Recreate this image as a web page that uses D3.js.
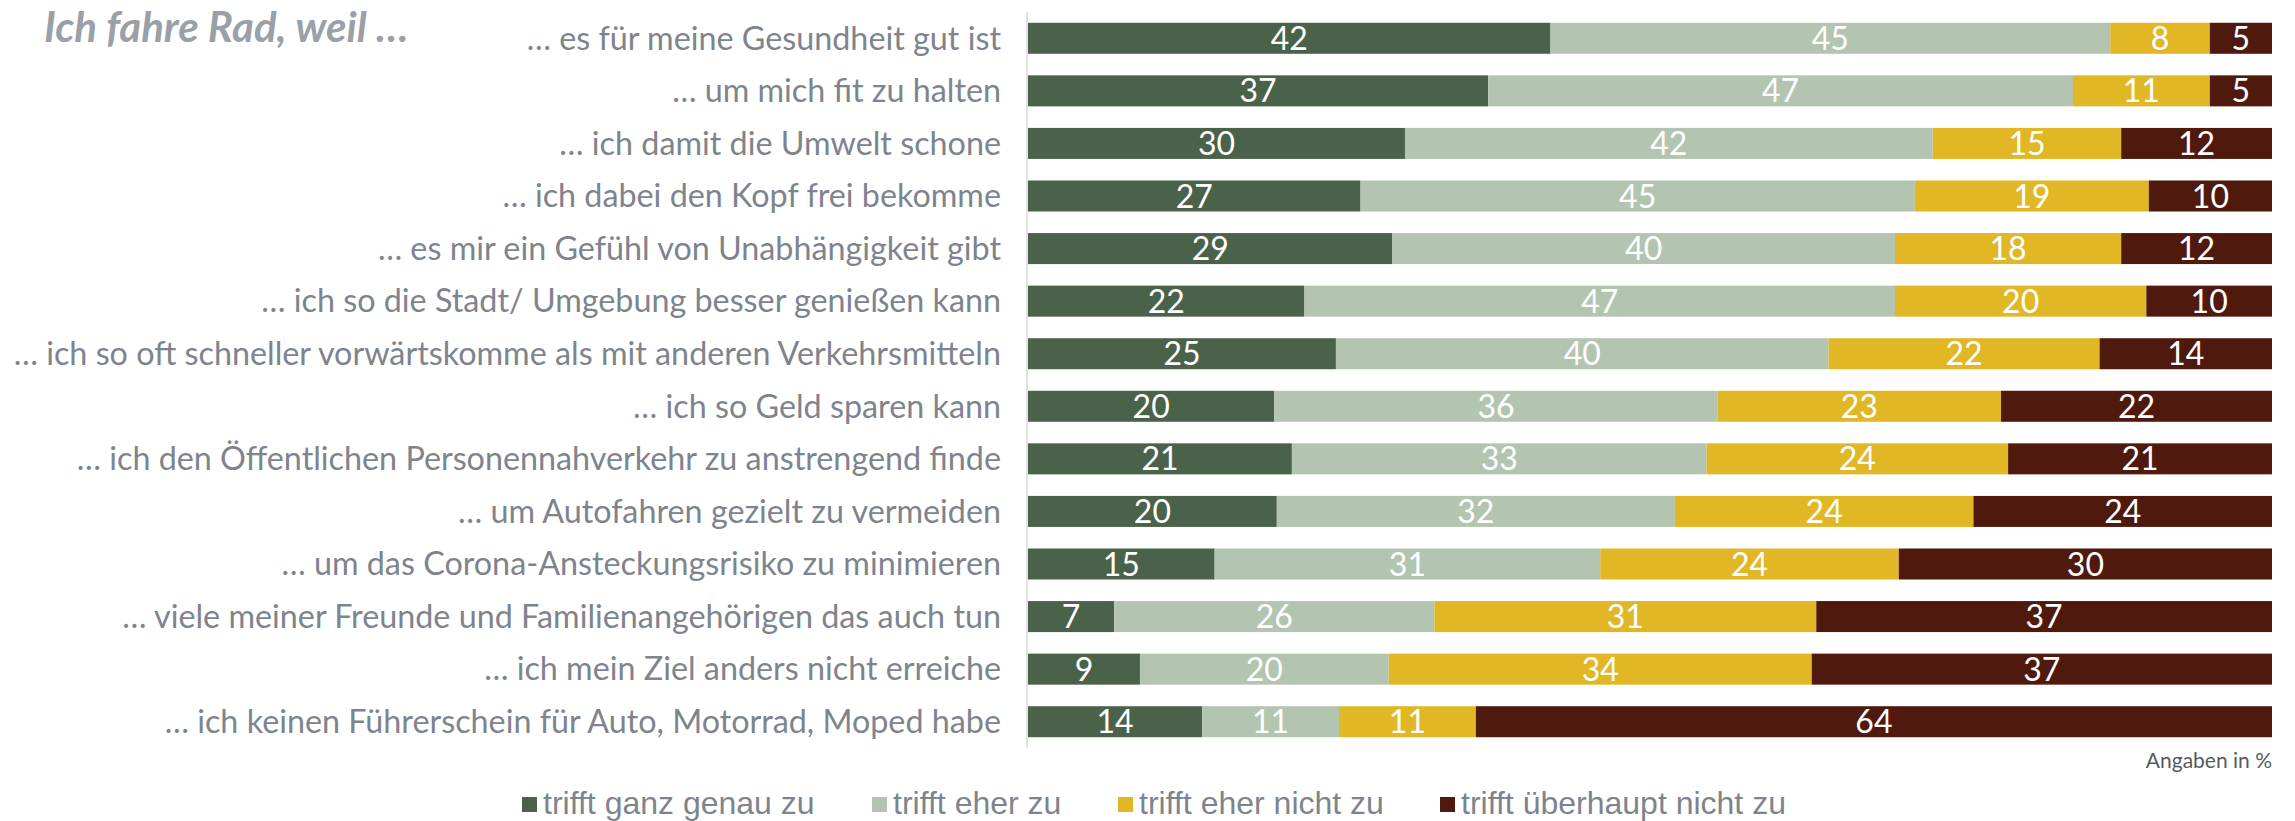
<!DOCTYPE html>
<html lang="de">
<head>
<meta charset="utf-8">
<script src="https://cdn.jsdelivr.net/npm/d3@7"></script>
<style>
  html, body { margin: 0; padding: 0; background: #ffffff; }
  svg { display: block; }
</style>
</head>
<body>
<svg id="chart" width="2295" height="821"></svg>
<script>
// Gründe fürs Radfahren – Zustimmung in Prozent (100-%-Stapel je Aussage)
const categories = [
  "… es für meine Gesundheit gut ist",
  "… um mich fit zu halten",
  "… ich damit die Umwelt schone",
  "… ich dabei den Kopf frei bekomme",
  "… es mir ein Gefühl von Unabhängigkeit gibt",
  "… ich so die Stadt/ Umgebung besser genießen kann",
  "… ich so oft schneller vorwärtskomme als mit anderen Verkehrsmitteln",
  "… ich so Geld sparen kann",
  "… ich den Öffentlichen Personennahverkehr zu anstrengend finde",
  "… um Autofahren gezielt zu vermeiden",
  "… um das Corona-Ansteckungsrisiko zu minimieren",
  "… viele meiner Freunde und Familienangehörigen das auch tun",
  "… ich mein Ziel anders nicht erreiche",
  "… ich keinen Führerschein für Auto, Motorrad, Moped habe"
];

const seriesNames = [
  "trifft ganz genau zu",
  "trifft eher zu",
  "trifft eher nicht zu",
  "trifft überhaupt nicht zu"
];

const trifftGanzGenau   = [42, 37, 30, 27, 29, 22, 25, 20, 21, 20, 15,  7,  9, 14];
const trifftEher        = [45, 47, 42, 45, 40, 47, 40, 36, 33, 32, 31, 26, 20, 11];
const trifftEherNicht   = [ 8, 11, 15, 19, 18, 20, 22, 23, 24, 24, 24, 31, 34, 11];
const trifftUeberhaupt  = [ 5,  5, 12, 10, 12, 10, 14, 22, 21, 24, 30, 37, 37, 64];

const seriesColors = ["#4a624a", "#b3c5b0", "#e1b726", "#50190d"];

const titleText = "Ich fahre Rad, weil …";
const unitNote = "Angaben in %";

// Tabelle für d3.stack
const keys = ["a", "b", "c", "d"];
const table = categories.map((cat, i) => ({
  cat,
  a: trifftGanzGenau[i],
  b: trifftEher[i],
  c: trifftEherNicht[i],
  d: trifftUeberhaupt[i]
}));

const stacked = d3.stack()
  .keys(keys)
  .offset(d3.stackOffsetExpand)(table);

const svg = d3.select("#chart");

const plotLeft = 1028, plotRight = 2272;
const x = d3.scaleLinear().domain([0, 1]).range([plotLeft, plotRight]);
const y = d3.scaleBand()
  .domain(categories)
  .range([12, 748])
  .paddingInner(0.41)
  .paddingOuter(0.205);

const color = d3.scaleOrdinal().domain(keys).range(seriesColors);

// Titel
svg.append("text")
  .attr("x", 44)
  .attr("y", 42)
  .attr("font-family", "Lato, sans-serif")
  .attr("font-weight", "bold")
  .attr("font-style", "italic")
  .attr("font-size", 42)
  .attr("fill", "#9b9fa6")
  .text(titleText);

// Senkrechte Achsenlinie
svg.append("line")
  .attr("x1", plotLeft - 1).attr("x2", plotLeft - 1)
  .attr("y1", 12).attr("y2", 748)
  .attr("stroke", "#e3e3e3")
  .attr("stroke-width", 2);

// Kategorienachse links
const yAxis = svg.append("g")
  .attr("transform", `translate(${plotLeft - 27},0)`)
  .call(d3.axisLeft(y).tickSize(0).tickPadding(0));
yAxis.select(".domain").remove();
yAxis.selectAll("text")
  .attr("font-family", "Lato, sans-serif")
  .attr("font-size", 32.3)
  .attr("fill", "#7e848d")
  .attr("dy", "0.35em");

// Gestapelte Balken
const groups = svg.append("g")
  .selectAll("g")
  .data(stacked)
  .join("g")
  .attr("fill", d => color(d.key));

groups.selectAll("rect")
  .data(d => d.map(seg => Object.assign(seg, { key: d.key })))
  .join("rect")
  .attr("x", d => x(d[0]))
  .attr("y", d => y(d.data.cat))
  .attr("width", d => x(d[1]) - x(d[0]))
  .attr("height", y.bandwidth());

// Wertebeschriftungen
groups.selectAll("text")
  .data(d => d)
  .join("text")
  .attr("x", d => (x(d[0]) + x(d[1])) / 2)
  .attr("y", d => y(d.data.cat) + y.bandwidth() / 2)
  .attr("dy", "0.36em")
  .attr("text-anchor", "middle")
  .attr("font-family", "Lato, sans-serif")
  .attr("font-size", 32)
  .attr("fill", "#ffffff")
  .text(d => d.data[d.key]);

// Hinweis zur Einheit
svg.append("text")
  .attr("x", plotRight)
  .attr("y", 768)
  .attr("text-anchor", "end")
  .attr("font-family", "Lato, sans-serif")
  .attr("font-size", 21)
  .attr("fill", "#555a60")
  .text(unitNote);

// Legende
const legendX = [522, 872, 1118, 1440];
const legend = svg.append("g")
  .selectAll("g")
  .data(seriesNames)
  .join("g")
  .attr("transform", (d, i) => `translate(${legendX[i]},0)`);

legend.append("rect")
  .attr("x", 0)
  .attr("y", 797)
  .attr("width", 15)
  .attr("height", 15)
  .attr("fill", (d, i) => seriesColors[i]);

legend.append("text")
  .attr("x", 21)
  .attr("y", 814)
  .attr("font-family", "'Liberation Sans', Arial, sans-serif")
  .attr("font-size", 32)
  .attr("fill", "#7e848d")
  .text(d => d);
</script>
</body>
</html>
